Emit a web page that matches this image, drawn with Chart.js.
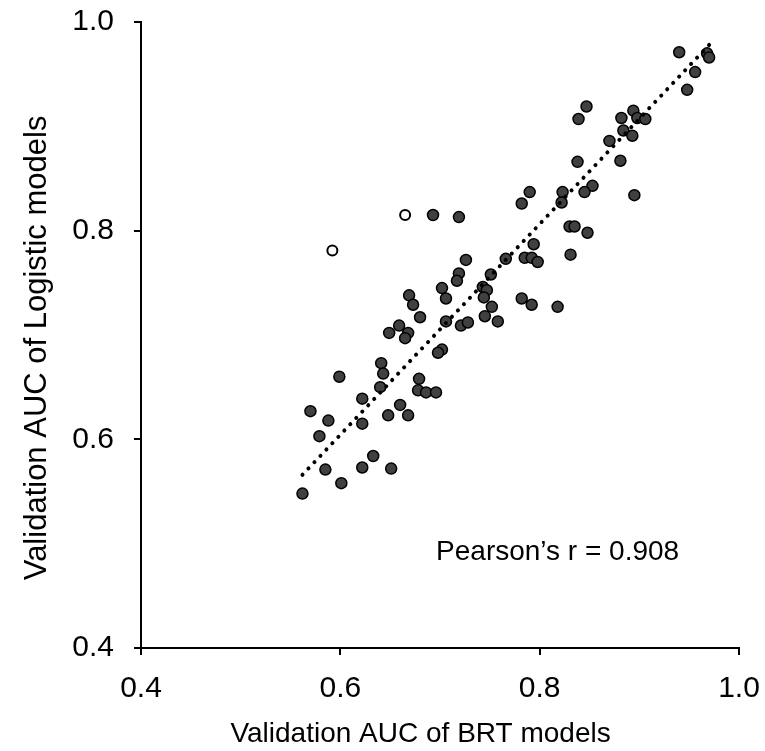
<!DOCTYPE html>
<html>
<head>
<meta charset="utf-8">
<script src="https://cdn.jsdelivr.net/npm/chart.js@4"></script>
<style>
  html, body { margin: 0; padding: 0; background: #fff; }
  #wrap { width: 765px; height: 751px; }
</style>
</head>
<body>
<div id="wrap"><canvas id="myChart"></canvas></div>
<script>
// BRT (x) vs Logistic (y) validation AUC
const brtAuc = [0.940,0.968,0.970,0.956,0.948,0.847,0.839,0.882,0.894,0.898,0.906,0.884,0.893,0.870,0.838,0.881,
  0.853,0.823,0.845,0.822,0.895,0.790,0.782,0.830,0.835,0.848,0.794,0.766,0.785,0.792,0.798,0.831,
  0.751,0.743,0.747,0.744,0.752,0.745,0.758,0.782,0.792,0.818,0.719,0.693,0.726,0.719,0.717,0.702,
  0.706,0.669,0.673,0.680,0.706,0.721,0.728,0.659,0.649,0.668,0.665,0.702,0.698,0.641,0.643,0.599,
  0.679,0.640,0.678,0.686,0.696,0.622,0.660,0.648,0.668,0.570,0.588,0.622,0.579,0.633,0.585,0.622,
  0.651,0.601,0.562];
const logAuc = [0.971,0.970,0.966,0.952,0.935,0.919,0.907,0.908,0.915,0.908,0.907,0.896,0.891,0.886,0.866,0.867,
  0.843,0.837,0.837,0.827,0.834,0.837,0.826,0.804,0.804,0.798,0.787,0.773,0.774,0.774,0.770,0.777,
  0.758,0.746,0.743,0.736,0.727,0.718,0.713,0.735,0.729,0.727,0.813,0.815,0.772,0.759,0.752,0.745,
  0.735,0.738,0.729,0.717,0.713,0.709,0.712,0.709,0.702,0.702,0.697,0.686,0.683,0.673,0.663,0.660,
  0.658,0.650,0.647,0.645,0.645,0.639,0.633,0.623,0.623,0.627,0.618,0.615,0.603,0.584,0.571,0.573,
  0.572,0.558,0.548];
// the two hollow points
const outlierBrt = [0.665, 0.592];
const outlierLog = [0.815, 0.781];
// dotted trend line ends
const trendX = [0.562, 0.970];
const trendY = [0.566, 0.978];
const axisTicks = [0.4, 0.6, 0.8, 1.0];
const pearsonText = 'Pearson\u2019s r = 0.908';

const toPts = (xs, ys) => xs.map((x, i) => ({x: x, y: ys[i]}));

const fontFam = "'Liberation Sans', Arial, sans-serif";
// trailing no-break spaces nudge the centred titles off the plot centre, like the original
const pad = (s, n) => s + '\u00a0'.repeat(n);

const pearsonLabel = {
  id: 'pearsonLabel',
  afterDatasetsDraw(chart) {
    const {ctx, scales} = chart;
    ctx.save();
    ctx.font = '28px ' + fontFam;
    ctx.fillStyle = '#000';
    ctx.textAlign = 'center';
    ctx.textBaseline = 'middle';
    ctx.fillText(pearsonText, scales.x.getPixelForValue(0.818), scales.y.getPixelForValue(0.492));
    ctx.restore();
  }
};

const axisOpts = (title, size, titleSize, titlePad, tickPad) => ({
  type: 'linear',
  min: 0.4,
  max: 1.0,
  afterBuildTicks: (s) => { s.ticks = axisTicks.map(v => ({value: v})); },
  afterFit: (s) => {
    if (s.isHorizontal()) s.height = size; else s.width = size;
    s.paddingTop = 0; s.paddingBottom = 0; s.paddingLeft = 0; s.paddingRight = 0;
  },
  grid: {
    drawOnChartArea: false,
    drawTicks: true,
    tickLength: 7,
    color: '#000',
    lineWidth: 2
  },
  border: { display: true, color: '#000', width: 2 },
  ticks: {
    color: '#000',
    padding: tickPad,
    font: { family: fontFam, size: 30 },
    callback: (v) => Number(v).toFixed(1)
  },
  title: {
    display: true,
    text: title,
    color: '#000',
    padding: titlePad,
    font: { family: fontFam, size: titleSize }
  }
});

new Chart(document.getElementById('myChart'), {
  type: 'scatter',
  data: {
    datasets: [
      {
        type: 'line',
        data: toPts(trendX, trendY),
        borderColor: '#000',
        borderWidth: 4,
        borderDash: [0.1, 8.6],
        borderCapStyle: 'round',
        pointRadius: 0,
        fill: false,
        order: 0
      },
      {
        data: toPts(brtAuc, logAuc),
        backgroundColor: '#404040',
        borderColor: '#000',
        borderWidth: 1.5,
        pointRadius: 5.5,
        order: 1
      },
      {
        data: toPts(outlierBrt, outlierLog),
        backgroundColor: '#fff',
        borderColor: '#000',
        borderWidth: 2,
        pointRadius: 5,
        order: 1
      }
    ]
  },
  options: {
    responsive: true,
    maintainAspectRatio: false,
    animation: false,
    layout: { padding: { left: 0, top: 22, right: 26, bottom: 0 } },
    plugins: {
      legend: { display: false },
      tooltip: { enabled: false }
    },
    scales: {
      x: axisOpts(pad('Validation AUC of BRT models', 5), 103, 28, {top: 0, bottom: 0}, 16),
      y: axisOpts(pad('Validation AUC of Logistic models', 3), 141, 31, {top: 19, bottom: 0}, 20)
    }
  },
  plugins: [pearsonLabel]
});
</script>
</body>
</html>
